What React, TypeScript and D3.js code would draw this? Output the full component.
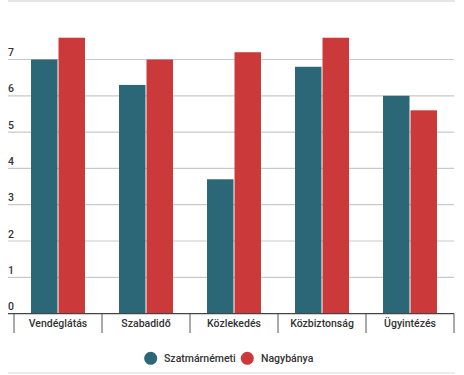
import React from "react";
import * as d3 from "d3";

const categories = ["Vendéglátás", "Szabadidő", "Közlekedés", "Közbiztonság", "Ügyintézés"];
const seriesNames = ["Szatmárnémeti", "Nagybánya"];
const szatmar = [7.0, 6.3, 3.7, 6.8, 6.0];
const nagybanya = [7.6, 7.0, 7.2, 7.6, 5.6];
const yTicks = [0, 1, 2, 3, 4, 5, 6, 7];
const colors = ["#2b6776", "#cc393b"];

export default function App() {
  const W = 464, H = 375;
  const left = 14, right = 454, y0 = 313.6;
  const x = d3.scaleBand<string>().domain(categories).range([left, right]).paddingInner(0).paddingOuter(0);
  const y = d3.scaleLinear().domain([0, 8]).range([y0, y0 - 8 * 36.3]);
  const inner = d3.scaleBand<string>().domain(seriesNames).range([17, 88 - 17]).paddingInner(0.037);
  const data = [szatmar, nagybanya];
  const font = "Roboto, sans-serif";
  return (
    <svg width={W} height={H} style={{ position: "absolute", left: 0, top: 0 }}>
      <rect x={0} y={0} width={W} height={H} fill="#fff" />
      <rect x={8} y={0} width={447} height={2} fill="#e6e6e6" />
      <rect x={8} y={372} width={447} height={2} fill="#ececec" />
      {yTicks.map((t) => (
        <g key={t}>
          {t > 0 && <line x1={8} x2={right} y1={y(t)} y2={y(t)} stroke="#c9c9c9" strokeWidth={1.2} />}
          <text x={8} y={y(t) - 3.5} fontFamily={font} fontSize={10.5} fontWeight={500} fill="#333">{t}</text>
        </g>
      ))}
      {categories.map((c, i) => (
        <g key={c}>
          {seriesNames.map((s, j) => (
            <rect key={s} x={(x(c) as number) + (inner(s) as number)} y={y(data[j][i])} width={inner.bandwidth()}
              height={y0 - y(data[j][i])} fill={colors[j]} />
          ))}
          <text x={(x(c) as number) + x.bandwidth() / 2} y={327} textAnchor="middle" fontFamily={font}
            fontSize={10.5} fontWeight={500} fill="#333">{c}</text>
        </g>
      ))}
      <line x1={8} x2={right} y1={y0} y2={y0} stroke="#444" strokeWidth={1.3} />
      {d3.range(categories.length + 1).map((k) => (
        <line key={k} x1={left + k * x.step()} x2={left + k * x.step()} y1={y0} y2={333} stroke="#555" strokeWidth={1} />
      ))}
      <circle cx={150.7} cy={358.3} r={6.5} fill={colors[0]} />
      <text x={164} y={362} fontFamily={font} fontSize={10.5} fontWeight={500} fill="#333">{seriesNames[0]}</text>
      <circle cx={247.3} cy={358.3} r={6.5} fill={colors[1]} />
      <text x={261} y={362} fontFamily={font} fontSize={10.5} fontWeight={500} fill="#333">{seriesNames[1]}</text>
    </svg>
  );
}
